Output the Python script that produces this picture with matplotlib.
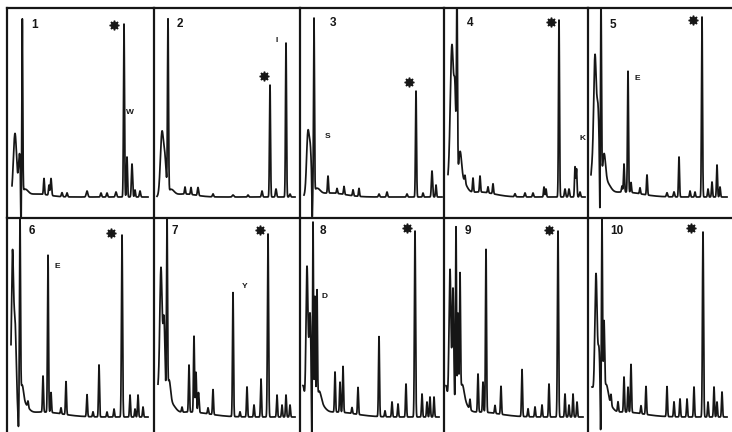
import numpy as np
import matplotlib
matplotlib.use("Agg")
import matplotlib.pyplot as plt

# ---- data (local x in px from panel's left edge, peak height in px above baseline, width) ----
panel_labels = ["1", "2", "3", "4", "5", "6", "7", "8", "9", "10"]
trace_start = [5, 3, 4, 4, 3, 4, 4, 3, 2, 4]
trace_end = [141, 141, 142, 141, 139, 141, 141, 139, 139, 139]

peaks_1 = [(8, 63, 1.6), (12.5, 40, 1.0), (14.0, -50, 0.35), (15.3, 172, 0.45), (18, 6, 3),
           (37, 16, 0.5), (42, 10, 0.5), (44, 17, 0.6), (55, 4, 0.6), (60, 4, 0.6), (80, 6, 0.8),
           (94, 4, 0.6), (100, 4, 0.6), (109, 5, 0.7), (117, 173, 0.5), (120, 40, 0.5),
           (125, 33, 0.6), (128, 7, 0.5), (133, 6, 0.6), (30, 3, 12)]
peaks_2 = [(8, 64, 1.6), (11, 30, 1.2), (14, 172, 0.5), (17, 6, 3), (31, 7, 0.5), (37, 7, 0.5),
           (44, 8, 0.6), (59, 3, 0.6), (79, 2, 0.8), (94, 2, 0.6), (108, 6, 0.6), (116, 112, 0.5),
           (122, 8, 0.6), (132, 154, 0.5), (136, 3, 0.6), (30, 3, 12)]
peaks_3 = [(8, 64, 1.4), (10.5, 35, 1.0), (12.2, -32, 0.35), (14, 173, 0.45), (17, 6, 3), (28, 17, 0.5),
           (37, 5, 0.5), (44, 8, 0.5), (53, 6, 0.5), (59, 8, 0.5), (79, 3, 0.6), (87, 5, 0.6),
           (107, 3, 0.6), (116, 106, 0.5), (123, 4, 0.5), (132, 26, 0.6), (136, 12, 0.5), (30, 4, 15)]
peaks_4 = [(6, 20, 3), (8, 134, 1.6), (11, 80, 1.0), (13, 182, 0.5), (16, 30, 1.5), (18, 15, 4),
           (21, 7, 0.5), (29, 14, 0.5), (36, 16, 0.5), (44, 6, 0.5), (49, 10, 0.5), (71, 3, 0.6),
           (81, 4, 0.6), (89, 4, 0.6), (100, 10, 0.5), (102, 8, 0.5), (115, 177, 0.5), (121, 8, 0.6),
           (125, 8, 0.6), (131, 30, 0.5), (132.5, 28, 0.5), (136, 5, 0.6), (35, 5, 15)]
peaks_5 = [(4, 25, 1.5), (7, 134, 1.3), (10, 80, 1.2), (11.9, -55, 0.35), (13, 182, 0.5), (16, 30, 1.5),
           (18, 12, 4), (34, 6, 0.5), (36, 28, 0.5), (40, 121, 0.5), (43, 10, 0.5), (52, 6, 0.5),
           (59, 20, 0.5), (79, 4, 0.6), (86, 5, 0.6), (91, 40, 0.5), (102, 6, 0.5), (107, 5, 0.5),
           (114, 180, 0.5), (120, 8, 0.5), (124, 15, 0.5), (129, 32, 0.5), (132, 10, 0.5), (35, 5, 18)]
peaks_6 = [(4, 25, 1.5), (5.5, 140, 1.0), (8, 90, 1.2), (11.5, -20, 0.4), (13, 183, 0.5), (15, 20, 1.5),
           (17, 10, 4), (21, 6, 0.5), (36, 36, 0.5), (41, 157, 0.5), (44, 20, 0.5), (54, 6, 0.5),
           (59, 33, 0.5), (80, 22, 0.5), (86, 5, 0.5), (92, 52, 0.5), (100, 5, 0.5), (107, 8, 0.5),
           (115, 182, 0.55), (123, 22, 0.5), (128, 8, 0.5), (131, 22, 0.5), (136, 10, 0.5), (35, 5, 20)]
peaks_7 = [(4, 25, 1.5), (7, 143, 1.2), (10, 90, 1.0), (13, 185, 0.5), (15, 25, 1.5), (17, 10, 4),
           (28, 5, 0.5), (35, 47, 0.5), (40, 76, 0.5), (42, 40, 0.5), (44.5, 20, 0.6), (54, 6, 0.5),
           (59, 25, 0.5), (79, 124, 0.5), (86, 5, 0.5), (93, 30, 0.5), (100, 12, 0.5), (107, 38, 0.5),
           (114, 183, 0.55), (123, 22, 0.5), (128, 12, 0.5), (132, 22, 0.5), (136, 12, 0.5), (35, 5, 20)]
peaks_8 = [(3, 30, 1.5), (7, 147, 1.0), (10, 100, 1.0), (11.8, -50, 0.35), (13, 190, 0.5), (15, 113, 0.45),
           (17, 110, 0.45), (19, 15, 2), (21, 8, 4), (35, 40, 0.5), (40, 30, 0.5), (43, 46, 0.5),
           (52, 6, 0.5), (58, 27, 0.5), (79, 80, 0.5), (85, 6, 0.5), (92, 15, 0.5), (98, 13, 0.5),
           (106, 33, 0.5), (115, 186, 0.55), (122, 23, 0.5), (127, 15, 0.5), (130, 20, 0.5),
           (134, 20, 0.5), (35, 5, 20)]
peaks_9 = [(2, 30, 1.5), (6, 145, 1.0), (9, 125, 0.8), (12, 186, 0.5), (14, 95, 0.5), (16, 123, 0.5),
           (18, 20, 2), (20, 10, 4), (26, 10, 0.5), (34, 38, 0.5), (39, 30, 0.5), (42, 163, 0.5),
           (51, 8, 0.5), (57, 28, 0.5), (78, 47, 0.5), (84, 8, 0.5), (91, 10, 0.5), (98, 12, 0.5),
           (105, 33, 0.5), (114, 186, 0.55), (121, 23, 0.5), (125, 12, 0.5), (129, 23, 0.5),
           (133, 15, 0.5), (35, 5, 20)]
peaks_10 = [(4, 28, 1.5), (8, 140, 1.2), (11, 60, 1.0), (12.6, -38, 0.35), (14, 188, 0.5), (16, 75, 0.6),
            (18, 20, 2), (20, 10, 4), (23, 10, 0.5), (30, 10, 0.5), (36, 35, 0.5), (40, 25, 0.5),
            (43, 48, 0.5), (53, 8, 0.5), (58, 28, 0.5), (79, 30, 0.5), (86, 15, 0.5), (92, 18, 0.5),
            (99, 18, 0.5), (106, 30, 0.5), (115, 185, 0.55), (120, 15, 0.5), (126, 30, 0.5),
            (129, 15, 0.5), (134, 25, 0.5), (35, 5, 20)]
all_peaks = [peaks_1, peaks_2, peaks_3, peaks_4, peaks_5, peaks_6, peaks_7, peaks_8, peaks_9, peaks_10]

# panel number label, star marker, and peak letters: (x, height)
number_pos = [(28, 172), (26, 173), (33, 174), (26, 174), (25, 172),
              (25, 186), (21, 186), (23, 186), (24, 186), (29, 186)]
star_pos = [(107, 172), (110, 121), (109, 115), (107, 175), (105, 177),
            (104, 184), (106, 187), (107, 189), (105, 187), (103, 189)]
letter_text = ["W", "I", "S", "K", "E", "E", "Y", "D", None, None]
letter_pos = [(123, 84), (123, 156), (28, 61), (139, 58), (49, 118),
              (50, 150), (91, 131), (25, 121), None, None]

# ---- layout (pixels) ----
W, H = 732, 432
col_x = [7, 154, 300, 444, 588, 732]
row_top = [8, 218]
row_bottom = [217, 432]
row_base = [197, 417]

fig = plt.figure(figsize=(W / 100, H / 100), dpi=100)
fig.patch.set_facecolor("white")
ink = "#161616"

for i in range(10):
    r, c = divmod(i, 5)
    x0, x1 = col_x[c], col_x[c + 1]
    top, bot, base = row_top[r], row_bottom[r], row_base[r]
    ax = fig.add_axes([x0 / W, 1 - bot / H, (x1 - x0) / W, (bot - top) / H])
    ax.set_xlim(0, x1 - x0)
    ax.set_ylim(-(bot - base), base - top)
    for s in ("right", "bottom"):
        ax.spines[s].set_visible(False)
    for s in ("left", "top"):
        ax.spines[s].set_linewidth(1.6)
        ax.spines[s].set_color(ink)
    ax.set_xticks([])
    ax.set_yticks([])
    ax.patch.set_alpha(0)

    x = np.linspace(trace_start[i], trace_end[i], 4000)
    y = np.zeros_like(x)
    for pos, h, w in all_peaks[i]:
        y += h * np.exp(-0.5 * ((x - pos) / w) ** 2)
    ax.plot(x, y, color=ink, lw=1.25, solid_joinstyle="round")

    nx, ny = number_pos[i]
    ax.text(nx, ny, panel_labels[i], ha="center", va="center", fontsize=8.5,
            fontweight="bold", family="Liberation Sans", color=ink)
    sx, sy = star_pos[i]
    ax.plot([sx], [sy], marker=(8, 1, 0), markersize=7, color=ink, mec=ink)
    if letter_text[i]:
        lx, ly = letter_pos[i]
        ax.text(lx, ly, letter_text[i], ha="center", va="center", fontsize=6,
                fontweight="bold", family="Liberation Sans", color=ink)

fig.savefig("out.png", dpi=100, facecolor="white")
